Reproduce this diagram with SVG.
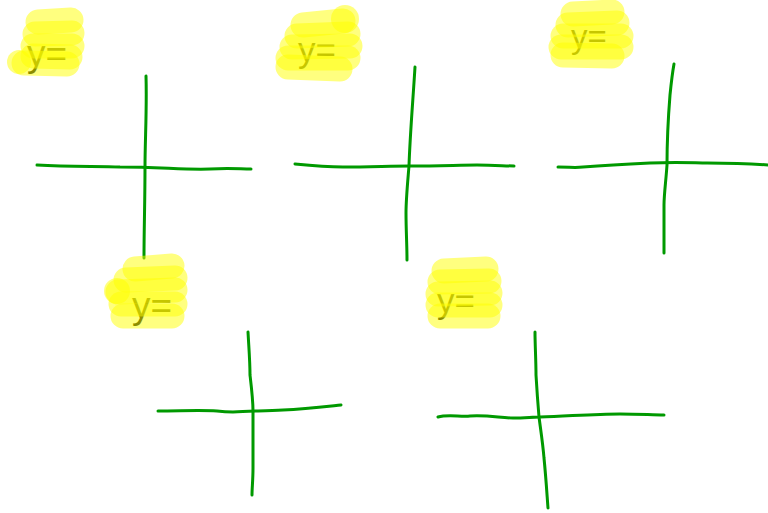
<svg xmlns="http://www.w3.org/2000/svg" width="768" height="513" viewBox="0 0 768 513">
<style>
.ax{fill:none;stroke:#009900;stroke-width:3;stroke-linecap:round;stroke-linejoin:round}
.hl{fill:none;stroke:#ffff00;stroke-opacity:0.5;stroke-width:25;stroke-linecap:round;stroke-linejoin:round}
.hc{fill:#ffff00;fill-opacity:0.5}
.lbl{font-family:"Liberation Sans","DejaVu Sans",sans-serif;fill:#1a1a00;}
</style>
<rect width="768" height="513" fill="#fff"/>
<g id="axes">
<g id="axes1">
<path class="ax" d="M146,76 C147,110 145,140 145,167 C145,200 144,230 144,258"/>
<path class="ax" d="M37,165 C70,167 100,166 120,167 C160,167 185,170 210,169 C230,168 240,169 251,169"/>
</g>
<g id="axes2">
<path class="ax" d="M415,67 C413,100 410,135 409,166 C407,190 406,200 406,213 C406,230 407,245 407,260"/>
<path class="ax" d="M295,164 C315,166 330,167 343,167 C370,167 390,166 410,166 C440,166 460,165 477,165 C495,165 505,166 514,166"/>
</g>
<g id="axes3">
<path class="ax" d="M674,64 C672,75 671,85 670,95 C668,120 667,140 667,165 C666,180 664,195 664,205 C664,225 664,240 664,253"/>
<path class="ax" d="M558,167 C570,167 575,168 583,167 C610,165 630,164 650,163 C680,162 695,163 707,163 C740,163 755,164 768,165"/>
</g>
<g id="axes4">
<path class="ax" d="M248,332 C249,350 250,362 250,375 C252,392 253,400 253,411 C253,430 253,450 253,468 C253,480 252,488 252,495"/>
<path class="ax" d="M158,411 C180,411 200,410 217,411 C225,412 228,412 233,412 C250,411 265,411 283,410 C305,409 322,407 341,405"/>
</g>
<g id="axes5">
<path class="ax" d="M535,332 C535,345 536,360 536,375 C537,392 538,405 539,417 C541,432 543,445 544,458 C546,478 547,495 548,508"/>
<path class="ax" d="M438,417 C448,414 460,417 470,416 C490,415 500,418 513,418 C525,418 532,417 540,417 C570,416 595,414 620,414 C640,414 652,415 664,415"/>
</g>
</g>
<g id="label1">
<text class="lbl" x="27" y="66" font-size="37">y=</text>
<circle class="hc" cx="19" cy="62" r="12"/>
<path class="hl" d="M38,22 L71,20"/>
<path class="hl" d="M35,34 L72,33"/>
<path class="hl" d="M33,46 L72,46"/>
<path class="hl" d="M33,56 L70,57"/>
<path class="hl" d="M24,63 L67,64"/>
</g>
<g id="label2">
<text class="lbl" x="298" y="62" font-size="35">y=</text>
<circle class="hc" cx="345" cy="19" r="14"/>
<path class="hl" d="M303,25 L343,21"/>
<path class="hl" d="M297,36 L348,34"/>
<path class="hl" d="M292,47 L350,46"/>
<path class="hl" d="M288,58 L348,58"/>
<path class="hl" d="M288,67 L340,69"/>
</g>
<g id="label3">
<text class="lbl" x="571" y="48" font-size="33">y=</text>
<path class="hl" d="M573,14 L612,12"/>
<path class="hl" d="M568,25 L617,23"/>
<path class="hl" d="M563,36 L621,36"/>
<path class="hl" d="M561,47 L621,47"/>
<path class="hl" d="M563,55 L612,56"/>
</g>
<g id="label4">
<text class="lbl" x="132" y="318" font-size="37">y=</text>
<circle class="hc" cx="117" cy="291" r="13"/>
<path class="hl" d="M135,269 L172,266"/>
<path class="hl" d="M126,280 L175,278"/>
<path class="hl" d="M118,292 L175,290"/>
<path class="hl" d="M121,304 L175,304"/>
<path class="hl" d="M123,316 L172,316"/>
</g>
<g id="label5">
<text class="lbl" x="437" y="313" font-size="35">y=</text>
<path class="hl" d="M444,271 L486,269"/>
<path class="hl" d="M440,282 L489,281"/>
<path class="hl" d="M438,294 L490,293"/>
<path class="hl" d="M438,305 L490,305"/>
<path class="hl" d="M440,316 L488,316"/>
</g>
</svg>
